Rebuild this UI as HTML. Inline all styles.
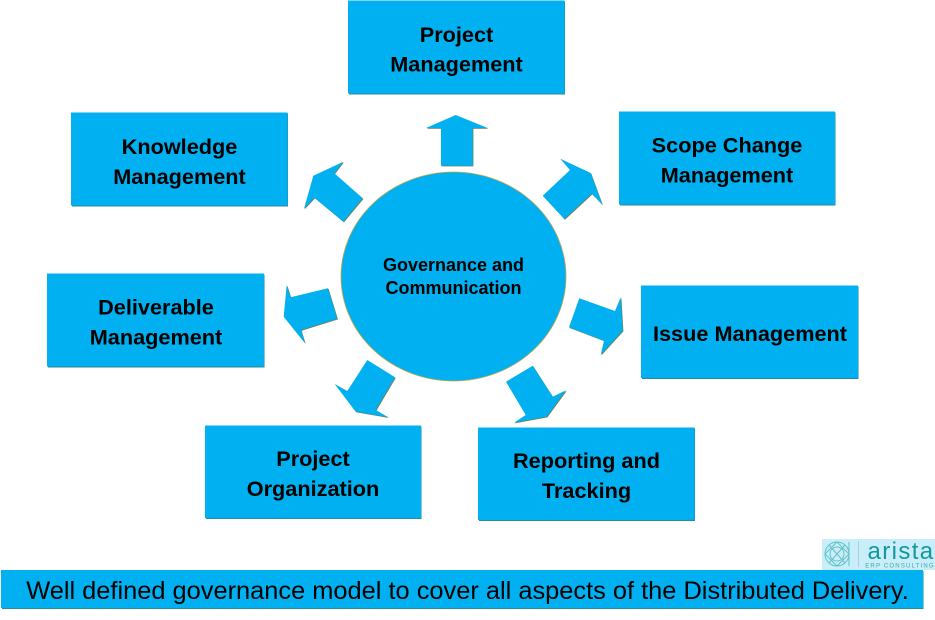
<!DOCTYPE html>
<html><head><meta charset="utf-8"><style>
html,body{margin:0;padding:0;background:#fff;width:935px;height:620px;overflow:hidden}
svg{display:block}
text{font-family:"Liberation Sans",sans-serif;fill:#000;text-anchor:middle}
.b{font-weight:bold;font-size:21.7px}
.box{fill:#00b0f0}
.sh{fill:#2a8b96}
.ar{fill:#00b0f0}
.as{fill:#6d8050;transform:translate(.7px,.7px)}
</style></head><body>
<svg width="935" height="620" viewBox="0 0 935 620" xmlns="http://www.w3.org/2000/svg">
<rect x="349" y="1.5" width="216" height="93" class="sh"/><rect x="348" y=".5" width="216.5" height="93" class="box"/>
<rect x="72" y="113.5" width="216" height="93" class="sh"/><rect x="71" y="112.5" width="216.5" height="93" class="box"/>
<rect x="620" y="112.5" width="215.5" height="93" class="sh"/><rect x="619" y="111.5" width="216" height="93" class="box"/>
<rect x="642" y="286.5" width="216.5" height="92.5" class="sh"/><rect x="641" y="285.5" width="217" height="92.5" class="box"/>
<rect x="48" y="274.5" width="216.5" height="93" class="sh"/><rect x="47" y="273.5" width="217" height="93" class="box"/>
<rect x="206" y="426.5" width="215.5" height="92.5" class="sh"/><rect x="205" y="425.5" width="216" height="92.5" class="box"/>
<rect x="479" y="428.5" width="216" height="92.5" class="sh"/><rect x="478" y="427.5" width="216.5" height="92.5" class="box"/>
<rect x="2" y="571" width="921.5" height="38" class="sh"/><rect x="1" y="570" width="922" height="38" class="box"/>
<ellipse cx="453.5" cy="276.5" rx="112.5" ry="104.5" fill="#00b0f0" stroke="#c4a84a" stroke-width=".8"/>
<polygon class="as" points="455.7,115 487.7,128 472.7,128 472.7,165.7 441,165.7 441,128 426,128"/>
<polygon class="ar" points="455.7,115 487.7,128 472.7,128 472.7,165.7 441,165.7 441,128 426,128"/>
<polygon class="as" points="542.7,195.7 570,170 560.3,158.7 590.7,173 602.3,204.7 591.7,193.7 564.3,219"/>
<polygon class="ar" points="542.7,195.7 570,170 560.3,158.7 590.7,173 602.3,204.7 591.7,193.7 564.3,219"/>
<polygon class="as" points="579.3,298.3 615,311 620.7,297.3 622.7,330.7 600.7,354.7 604,340.7 569,327.3"/>
<polygon class="ar" points="579.3,298.3 615,311 620.7,297.3 622.7,330.7 600.7,354.7 604,340.7 569,327.3"/>
<polygon class="as" points="506,381.7 532.7,365.7 552.7,396.7 566,390.3 546.7,416.7 514,422.7 525.7,415"/>
<polygon class="ar" points="506,381.7 532.7,365.7 552.7,396.7 566,390.3 546.7,416.7 514,422.7 525.7,415"/>
<polygon class="as" points="367.3,360 395,377.3 375.7,410 388.3,417.3 355.7,411.7 334.7,384 347.3,391"/>
<polygon class="ar" points="367.3,360 395,377.3 375.7,410 388.3,417.3 355.7,411.7 334.7,384 347.3,391"/>
<polygon class="as" points="286.7,285 290.7,297.3 328,288.3 337.3,318.7 301,330 305,343.3 283.7,316.7"/>
<polygon class="ar" points="286.7,285 290.7,297.3 328,288.3 337.3,318.7 301,330 305,343.3 283.7,316.7"/>
<polygon class="as" points="343.3,161.7 334.3,173.3 362.7,198.3 343.3,221.7 314.3,197.7 304,208.7 313.3,175.7"/>
<polygon class="ar" points="343.3,161.7 334.3,173.3 362.7,198.3 343.3,221.7 314.3,197.7 304,208.7 313.3,175.7"/>
<text class="b" x="456.5" y="42">Project</text>
<text class="b" x="456.5" y="71.5">Management</text>
<text class="b" x="179.5" y="154">Knowledge</text>
<text class="b" x="179.5" y="184">Management</text>
<text class="b" x="727" y="152.5">Scope Change</text>
<text class="b" x="727" y="182.5">Management</text>
<text class="b" x="750" y="341">Issue Management</text>
<text class="b" x="156" y="314.5">Deliverable</text>
<text class="b" x="156" y="344.5">Management</text>
<text class="b" x="313" y="466">Project</text>
<text class="b" x="313" y="496">Organization</text>
<text class="b" x="586.5" y="468">Reporting and</text>
<text class="b" x="586.5" y="498">Tracking</text>
<text x="453.5" y="271" font-size="18" font-weight="bold">Governance and</text>
<text x="453.5" y="294" font-size="18" font-weight="bold">Communication</text>
<text x="467.5" y="599" font-size="25.4">Well defined governance model to cover all aspects of the Distributed Delivery.</text>
<rect x="822" y="539" width="113" height="31" fill="#c9eefa"/>
<g fill="none" stroke="#3fb3b5" stroke-width="1" opacity=".75">
<circle cx="837" cy="554" r="12"/><circle cx="837" cy="554" r="7"/>
<path d="M825 554L837 542L849 554L837 566ZM829 545L845 563M845 545L829 563M849 542V566"/>
</g>
<rect x="858" y="541" width="1" height="26" fill="#9fd6dc"/>
<text x="901" y="559" font-size="24" style="fill:#12989c;letter-spacing:1.4px">arista</text>
<text x="900" y="567.5" font-size="6" style="fill:#3aa7ab;letter-spacing:1.2px">ERP CONSULTING</text>
</svg>
</body></html>
